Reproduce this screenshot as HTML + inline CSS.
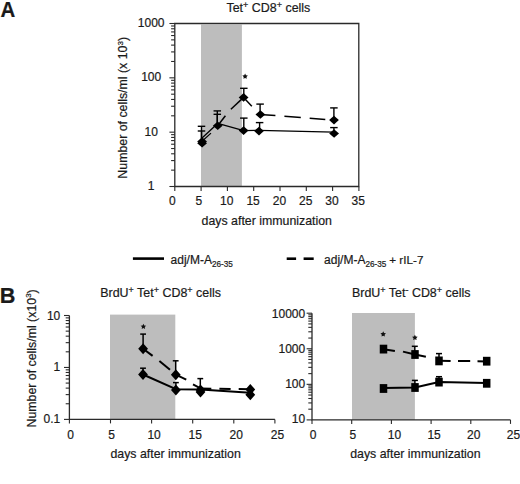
<!DOCTYPE html>
<html><head><meta charset="utf-8"><style>
html,body{margin:0;padding:0;background:#fff;}
svg{display:block;}
text{font-family:"Liberation Sans",sans-serif;fill:#1a1a1a;stroke:#1a1a1a;stroke-width:0.2px;}
</style></head><body>
<svg width="520" height="484" viewBox="0 0 520 484">
<rect width="520" height="484" fill="#fff"/>
<rect x="201.0" y="24.6" width="40.90" height="161.90" fill="#bdbdbd"/>
<path d="M174.80 23.5H358.8V186.5H174.80Z" fill="none" stroke="#2a2a2a" stroke-width="1.3"/>
<line x1="169.40" y1="186.50" x2="174.80" y2="186.50" stroke="#2a2a2a" stroke-width="1.1" />
<line x1="171.10" y1="170.14" x2="174.80" y2="170.14" stroke="#2a2a2a" stroke-width="1.1" />
<line x1="171.10" y1="160.58" x2="174.80" y2="160.58" stroke="#2a2a2a" stroke-width="1.1" />
<line x1="171.10" y1="153.79" x2="174.80" y2="153.79" stroke="#2a2a2a" stroke-width="1.1" />
<line x1="171.10" y1="148.52" x2="174.80" y2="148.52" stroke="#2a2a2a" stroke-width="1.1" />
<line x1="171.10" y1="144.22" x2="174.80" y2="144.22" stroke="#2a2a2a" stroke-width="1.1" />
<line x1="171.10" y1="140.58" x2="174.80" y2="140.58" stroke="#2a2a2a" stroke-width="1.1" />
<line x1="171.10" y1="137.43" x2="174.80" y2="137.43" stroke="#2a2a2a" stroke-width="1.1" />
<line x1="171.10" y1="134.65" x2="174.80" y2="134.65" stroke="#2a2a2a" stroke-width="1.1" />
<line x1="169.40" y1="132.17" x2="174.80" y2="132.17" stroke="#2a2a2a" stroke-width="1.1" />
<line x1="171.10" y1="115.81" x2="174.80" y2="115.81" stroke="#2a2a2a" stroke-width="1.1" />
<line x1="171.10" y1="106.24" x2="174.80" y2="106.24" stroke="#2a2a2a" stroke-width="1.1" />
<line x1="171.10" y1="99.45" x2="174.80" y2="99.45" stroke="#2a2a2a" stroke-width="1.1" />
<line x1="171.10" y1="94.19" x2="174.80" y2="94.19" stroke="#2a2a2a" stroke-width="1.1" />
<line x1="171.10" y1="89.89" x2="174.80" y2="89.89" stroke="#2a2a2a" stroke-width="1.1" />
<line x1="171.10" y1="86.25" x2="174.80" y2="86.25" stroke="#2a2a2a" stroke-width="1.1" />
<line x1="171.10" y1="83.10" x2="174.80" y2="83.10" stroke="#2a2a2a" stroke-width="1.1" />
<line x1="171.10" y1="80.32" x2="174.80" y2="80.32" stroke="#2a2a2a" stroke-width="1.1" />
<line x1="169.40" y1="77.83" x2="174.80" y2="77.83" stroke="#2a2a2a" stroke-width="1.1" />
<line x1="171.10" y1="61.48" x2="174.80" y2="61.48" stroke="#2a2a2a" stroke-width="1.1" />
<line x1="171.10" y1="51.91" x2="174.80" y2="51.91" stroke="#2a2a2a" stroke-width="1.1" />
<line x1="171.10" y1="45.12" x2="174.80" y2="45.12" stroke="#2a2a2a" stroke-width="1.1" />
<line x1="171.10" y1="39.86" x2="174.80" y2="39.86" stroke="#2a2a2a" stroke-width="1.1" />
<line x1="171.10" y1="35.55" x2="174.80" y2="35.55" stroke="#2a2a2a" stroke-width="1.1" />
<line x1="171.10" y1="31.92" x2="174.80" y2="31.92" stroke="#2a2a2a" stroke-width="1.1" />
<line x1="171.10" y1="28.77" x2="174.80" y2="28.77" stroke="#2a2a2a" stroke-width="1.1" />
<line x1="171.10" y1="25.99" x2="174.80" y2="25.99" stroke="#2a2a2a" stroke-width="1.1" />
<line x1="169.40" y1="23.50" x2="174.80" y2="23.50" stroke="#2a2a2a" stroke-width="1.1" />
<text x="151.20" y="190.10" font-size="12" text-anchor="middle" >1</text>
<text x="151.20" y="135.77" font-size="12" text-anchor="middle" >10</text>
<text x="151.20" y="81.43" font-size="12" text-anchor="middle" >100</text>
<text x="151.20" y="27.10" font-size="12" text-anchor="middle" >1000</text>
<line x1="174.80" y1="186.50" x2="174.80" y2="191.00" stroke="#2a2a2a" stroke-width="1.1" />
<text x="172.30" y="204.50" font-size="12" text-anchor="middle" >0</text>
<line x1="201.10" y1="186.50" x2="201.10" y2="191.00" stroke="#2a2a2a" stroke-width="1.1" />
<text x="198.80" y="204.50" font-size="12" text-anchor="middle" >5</text>
<line x1="227.40" y1="186.50" x2="227.40" y2="191.00" stroke="#2a2a2a" stroke-width="1.1" />
<text x="226.80" y="204.50" font-size="12" text-anchor="middle" >10</text>
<line x1="253.70" y1="186.50" x2="253.70" y2="191.00" stroke="#2a2a2a" stroke-width="1.1" />
<text x="253.10" y="204.50" font-size="12" text-anchor="middle" >15</text>
<line x1="280.00" y1="186.50" x2="280.00" y2="191.00" stroke="#2a2a2a" stroke-width="1.1" />
<text x="279.40" y="204.50" font-size="12" text-anchor="middle" >20</text>
<line x1="306.30" y1="186.50" x2="306.30" y2="191.00" stroke="#2a2a2a" stroke-width="1.1" />
<text x="305.70" y="204.50" font-size="12" text-anchor="middle" >25</text>
<line x1="332.60" y1="186.50" x2="332.60" y2="191.00" stroke="#2a2a2a" stroke-width="1.1" />
<text x="332.00" y="204.50" font-size="12" text-anchor="middle" >30</text>
<line x1="358.90" y1="186.50" x2="358.90" y2="191.00" stroke="#2a2a2a" stroke-width="1.1" />
<text x="358.30" y="204.50" font-size="12" text-anchor="middle" >35</text>
<text x="266.80" y="224.60" font-size="12.35" text-anchor="middle" >days after immunization</text>
<text x="0.00" y="0.00" font-size="12.35" text-anchor="middle" transform="translate(127.4 107.8) rotate(-90)">Number of cells/ml (x 10<tspan font-size="8" dy="-4.6">3</tspan><tspan dy="4.6">)</tspan></text>
<text x="268.40" y="11.60" font-size="12.45" text-anchor="middle" >Tet<tspan font-size="9" dy="-4.0">+</tspan><tspan dy="4.0"> CD8</tspan><tspan font-size="9" dy="-4.0">+</tspan><tspan dy="4.0"> cells</tspan></text>
<line x1="201.50" y1="141.00" x2="201.50" y2="126.30" stroke="#000" stroke-width="1.4" />
<line x1="197.75" y1="126.30" x2="205.25" y2="126.30" stroke="#000" stroke-width="1.4" />
<line x1="201.50" y1="143.00" x2="201.50" y2="131.00" stroke="#000" stroke-width="1.4" />
<line x1="197.75" y1="131.00" x2="205.25" y2="131.00" stroke="#000" stroke-width="1.4" />
<line x1="217.30" y1="125.00" x2="217.30" y2="110.90" stroke="#000" stroke-width="1.4" />
<line x1="213.55" y1="110.90" x2="221.05" y2="110.90" stroke="#000" stroke-width="1.4" />
<line x1="217.30" y1="125.00" x2="217.30" y2="114.30" stroke="#000" stroke-width="1.4" />
<line x1="213.55" y1="114.30" x2="221.05" y2="114.30" stroke="#000" stroke-width="1.4" />
<line x1="243.80" y1="130.00" x2="243.80" y2="118.10" stroke="#000" stroke-width="1.4" />
<line x1="240.05" y1="118.10" x2="247.55" y2="118.10" stroke="#000" stroke-width="1.4" />
<line x1="259.60" y1="131.00" x2="259.60" y2="122.60" stroke="#000" stroke-width="1.4" />
<line x1="255.85" y1="122.60" x2="263.35" y2="122.60" stroke="#000" stroke-width="1.4" />
<line x1="333.90" y1="133.00" x2="333.90" y2="127.60" stroke="#000" stroke-width="1.4" />
<line x1="330.15" y1="127.60" x2="337.65" y2="127.60" stroke="#000" stroke-width="1.4" />
<line x1="243.80" y1="97.00" x2="243.80" y2="88.30" stroke="#000" stroke-width="1.4" />
<line x1="240.05" y1="88.30" x2="247.55" y2="88.30" stroke="#000" stroke-width="1.4" />
<line x1="260.10" y1="114.00" x2="260.10" y2="104.10" stroke="#000" stroke-width="1.4" />
<line x1="256.35" y1="104.10" x2="263.85" y2="104.10" stroke="#000" stroke-width="1.4" />
<line x1="333.90" y1="120.00" x2="333.90" y2="107.90" stroke="#000" stroke-width="1.4" />
<line x1="330.15" y1="107.90" x2="337.65" y2="107.90" stroke="#000" stroke-width="1.4" />
<path d="M202.00 138.00L217.70 123.40L243.70 130.60L259.00 130.40L334.00 132.10" stroke="#000" stroke-width="1.3" fill="none" stroke-linejoin="round"/>
<path d="M202.60 140.80L211.00 133.10" stroke="#000" stroke-width="1.2" fill="none"/>
<path d="M217.70 125.80L225.40 115.80" stroke="#000" stroke-width="1.5" fill="none"/>
<path d="M230.90 109.30L243.60 97.40" stroke="#000" stroke-width="1.5" fill="none"/>
<path d="M243.60 97.40L251.80 106.30" stroke="#000" stroke-width="1.5" fill="none"/>
<path d="M259.60 114.40L275.40 115.50" stroke="#000" stroke-width="1.5" fill="none"/>
<path d="M284.40 116.30L300.80 117.50" stroke="#000" stroke-width="1.5" fill="none"/>
<path d="M309.70 118.20L325.30 119.40" stroke="#000" stroke-width="1.5" fill="none"/>
<path d="M197.20 141.50L202.10 137.20L207.00 141.50L202.10 145.80Z" fill="#000"/>
<path d="M197.20 143.30L202.10 139.00L207.00 143.30L202.10 147.60Z" fill="#000"/>
<path d="M212.80 125.80L217.70 121.50L222.60 125.80L217.70 130.10Z" fill="#000"/>
<path d="M238.70 130.60L243.60 126.30L248.50 130.60L243.60 134.90Z" fill="#000"/>
<path d="M254.10 131.10L259.00 126.80L263.90 131.10L259.00 135.40Z" fill="#000"/>
<path d="M329.20 133.50L334.10 129.20L339.00 133.50L334.10 137.80Z" fill="#000"/>
<path d="M238.70 97.40L243.60 93.10L248.50 97.40L243.60 101.70Z" fill="#000"/>
<path d="M255.50 114.50L260.40 110.20L265.30 114.50L260.40 118.80Z" fill="#000"/>
<path d="M329.10 120.10L334.00 115.80L338.90 120.10L334.00 124.40Z" fill="#000"/>
<path d="M245.10 73.60L245.95 75.33L247.86 75.60L246.48 76.95L246.80 78.85L245.10 77.95L243.40 78.85L243.72 76.95L242.34 75.60L244.25 75.33Z" fill="#111"/>
<line x1="132.90" y1="258.60" x2="164.00" y2="258.60" stroke="#000" stroke-width="2.6" />
<text x="170.60" y="263.50" font-size="12" text-anchor="start" >adj/M-A<tspan font-size="8.2" dy="3.6">26-35</tspan></text>
<line x1="286.70" y1="258.70" x2="296.10" y2="258.70" stroke="#000" stroke-width="2.6" />
<line x1="303.60" y1="258.70" x2="313.70" y2="258.70" stroke="#000" stroke-width="2.6" />
<text x="324.10" y="263.50" font-size="12" text-anchor="start" >adj/M-A<tspan font-size="8.2" dy="3.6">26-35</tspan></text>
<text x="389.30" y="263.50" font-size="11.7" text-anchor="start" >+ rIL-7</text>
<text x="0.00" y="0.00" font-size="22" text-anchor="start" font-weight="bold" transform="translate(0.4 16.8) scale(0.93 1)">A</text>
<text x="0.00" y="0.00" font-size="22" text-anchor="start" font-weight="bold" transform="translate(-0.2 302.9) scale(0.985 1)">B</text>
<rect x="110" y="314.6" width="65.30" height="104.80" fill="#bdbdbd"/>
<path d="M69.40 315.5V419.4H274.90" fill="none" stroke="#2a2a2a" stroke-width="1.3"/>
<line x1="64.00" y1="419.40" x2="69.40" y2="419.40" stroke="#2a2a2a" stroke-width="1.1" />
<line x1="65.70" y1="403.76" x2="69.40" y2="403.76" stroke="#2a2a2a" stroke-width="1.1" />
<line x1="65.70" y1="394.61" x2="69.40" y2="394.61" stroke="#2a2a2a" stroke-width="1.1" />
<line x1="65.70" y1="388.12" x2="69.40" y2="388.12" stroke="#2a2a2a" stroke-width="1.1" />
<line x1="65.70" y1="383.09" x2="69.40" y2="383.09" stroke="#2a2a2a" stroke-width="1.1" />
<line x1="65.70" y1="378.98" x2="69.40" y2="378.98" stroke="#2a2a2a" stroke-width="1.1" />
<line x1="65.70" y1="375.50" x2="69.40" y2="375.50" stroke="#2a2a2a" stroke-width="1.1" />
<line x1="65.70" y1="372.48" x2="69.40" y2="372.48" stroke="#2a2a2a" stroke-width="1.1" />
<line x1="65.70" y1="369.83" x2="69.40" y2="369.83" stroke="#2a2a2a" stroke-width="1.1" />
<line x1="64.00" y1="367.45" x2="69.40" y2="367.45" stroke="#2a2a2a" stroke-width="1.1" />
<line x1="65.70" y1="351.81" x2="69.40" y2="351.81" stroke="#2a2a2a" stroke-width="1.1" />
<line x1="65.70" y1="342.66" x2="69.40" y2="342.66" stroke="#2a2a2a" stroke-width="1.1" />
<line x1="65.70" y1="336.17" x2="69.40" y2="336.17" stroke="#2a2a2a" stroke-width="1.1" />
<line x1="65.70" y1="331.14" x2="69.40" y2="331.14" stroke="#2a2a2a" stroke-width="1.1" />
<line x1="65.70" y1="327.03" x2="69.40" y2="327.03" stroke="#2a2a2a" stroke-width="1.1" />
<line x1="65.70" y1="323.55" x2="69.40" y2="323.55" stroke="#2a2a2a" stroke-width="1.1" />
<line x1="65.70" y1="320.53" x2="69.40" y2="320.53" stroke="#2a2a2a" stroke-width="1.1" />
<line x1="65.70" y1="317.88" x2="69.40" y2="317.88" stroke="#2a2a2a" stroke-width="1.1" />
<line x1="64.00" y1="315.50" x2="69.40" y2="315.50" stroke="#2a2a2a" stroke-width="1.1" />
<text x="60.30" y="423.20" font-size="12" text-anchor="end" >0.1</text>
<text x="60.30" y="371.25" font-size="12" text-anchor="end" >1</text>
<text x="60.30" y="320.30" font-size="12" text-anchor="end" >10</text>
<line x1="69.40" y1="419.40" x2="69.40" y2="423.40" stroke="#2a2a2a" stroke-width="1.1" />
<text x="70.60" y="438.80" font-size="12" text-anchor="middle" >0</text>
<line x1="110.50" y1="419.40" x2="110.50" y2="423.40" stroke="#2a2a2a" stroke-width="1.1" />
<text x="111.70" y="438.80" font-size="12" text-anchor="middle" >5</text>
<line x1="151.60" y1="419.40" x2="151.60" y2="423.40" stroke="#2a2a2a" stroke-width="1.1" />
<text x="154.10" y="438.80" font-size="12" text-anchor="middle" >10</text>
<line x1="192.70" y1="419.40" x2="192.70" y2="423.40" stroke="#2a2a2a" stroke-width="1.1" />
<text x="195.20" y="438.80" font-size="12" text-anchor="middle" >15</text>
<line x1="233.80" y1="419.40" x2="233.80" y2="423.40" stroke="#2a2a2a" stroke-width="1.1" />
<text x="236.30" y="438.80" font-size="12" text-anchor="middle" >20</text>
<line x1="274.90" y1="419.40" x2="274.90" y2="423.40" stroke="#2a2a2a" stroke-width="1.1" />
<text x="277.40" y="438.80" font-size="12" text-anchor="middle" >25</text>
<text x="175.60" y="457.80" font-size="12.35" text-anchor="middle" >days after immunization</text>
<text x="0.00" y="0.00" font-size="12.35" text-anchor="middle" transform="translate(35.7 358.4) rotate(-90)">Number of cells/ml (x10<tspan font-size="8" dy="-4.6">3</tspan><tspan dy="4.6">)</tspan></text>
<text x="160.60" y="296.80" font-size="12.45" text-anchor="middle" >BrdU<tspan font-size="9" dy="-4.0">+</tspan><tspan dy="4.0"> Tet</tspan><tspan font-size="9" dy="-4.0">+</tspan><tspan dy="4.0"> CD8</tspan><tspan font-size="9" dy="-4.0">+</tspan><tspan dy="4.0"> cells</tspan></text>
<line x1="143.10" y1="349.00" x2="143.10" y2="334.10" stroke="#000" stroke-width="1.5" />
<line x1="140.20" y1="334.10" x2="146.00" y2="334.10" stroke="#000" stroke-width="1.5" />
<line x1="175.70" y1="374.70" x2="175.70" y2="360.80" stroke="#000" stroke-width="1.5" />
<line x1="172.80" y1="360.80" x2="178.60" y2="360.80" stroke="#000" stroke-width="1.5" />
<line x1="200.30" y1="388.40" x2="200.30" y2="378.60" stroke="#000" stroke-width="1.5" />
<line x1="197.40" y1="378.60" x2="203.20" y2="378.60" stroke="#000" stroke-width="1.5" />
<line x1="143.00" y1="374.50" x2="143.00" y2="368.20" stroke="#000" stroke-width="1.5" />
<line x1="140.10" y1="368.20" x2="145.90" y2="368.20" stroke="#000" stroke-width="1.5" />
<line x1="175.90" y1="389.90" x2="175.90" y2="382.60" stroke="#000" stroke-width="1.5" />
<line x1="173.00" y1="382.60" x2="178.80" y2="382.60" stroke="#000" stroke-width="1.5" />
<path d="M143.00 374.50L175.90 389.20L200.50 389.60L250.30 392.80" stroke="#000" stroke-width="2.0" fill="none" stroke-linejoin="round"/>
<path d="M143.10 348.70L152.60 355.90" stroke="#000" stroke-width="2.0" fill="none"/>
<path d="M159.40 361.10L170.00 369.80" stroke="#000" stroke-width="2.0" fill="none"/>
<path d="M175.80 374.70L186.25 379.60" stroke="#000" stroke-width="2.0" fill="none"/>
<path d="M193.00 384.40L200.50 388.30" stroke="#000" stroke-width="2.0" fill="none"/>
<path d="M200.50 388.50L211.30 388.70" stroke="#000" stroke-width="2.0" fill="none"/>
<path d="M219.40 388.80L230.60 389.00" stroke="#000" stroke-width="2.0" fill="none"/>
<path d="M238.70 389.10L250.30 389.30" stroke="#000" stroke-width="2.0" fill="none"/>
<path d="M138.20 348.70L143.10 343.20L148.00 348.70L143.10 354.20Z" fill="#000"/>
<path d="M170.90 374.70L175.80 369.20L180.70 374.70L175.80 380.20Z" fill="#000"/>
<path d="M195.60 390.00L200.50 384.50L205.40 390.00L200.50 395.50Z" fill="#000"/>
<path d="M245.40 389.50L250.30 384.00L255.20 389.50L250.30 395.00Z" fill="#000"/>
<path d="M138.10 374.50L143.00 369.00L147.90 374.50L143.00 380.00Z" fill="#000"/>
<path d="M171.00 389.90L175.90 384.40L180.80 389.90L175.90 395.40Z" fill="#000"/>
<path d="M195.60 391.90L200.50 386.40L205.40 391.90L200.50 397.40Z" fill="#000"/>
<path d="M245.40 394.70L250.30 389.20L255.20 394.70L250.30 400.20Z" fill="#000"/>
<path d="M143.40 323.70L144.25 325.43L146.16 325.70L144.78 327.05L145.10 328.95L143.40 328.05L141.70 328.95L142.02 327.05L140.64 325.70L142.55 325.43Z" fill="#111"/>
<rect x="352" y="313" width="62.90" height="106.90" fill="#bdbdbd"/>
<path d="M312.00 313.2V419.9H510.50" fill="none" stroke="#2a2a2a" stroke-width="1.3"/>
<line x1="306.60" y1="419.90" x2="312.00" y2="419.90" stroke="#2a2a2a" stroke-width="1.1" />
<line x1="308.30" y1="409.19" x2="312.00" y2="409.19" stroke="#2a2a2a" stroke-width="1.1" />
<line x1="308.30" y1="402.93" x2="312.00" y2="402.93" stroke="#2a2a2a" stroke-width="1.1" />
<line x1="308.30" y1="398.49" x2="312.00" y2="398.49" stroke="#2a2a2a" stroke-width="1.1" />
<line x1="308.30" y1="395.04" x2="312.00" y2="395.04" stroke="#2a2a2a" stroke-width="1.1" />
<line x1="308.30" y1="392.22" x2="312.00" y2="392.22" stroke="#2a2a2a" stroke-width="1.1" />
<line x1="308.30" y1="389.84" x2="312.00" y2="389.84" stroke="#2a2a2a" stroke-width="1.1" />
<line x1="308.30" y1="387.78" x2="312.00" y2="387.78" stroke="#2a2a2a" stroke-width="1.1" />
<line x1="308.30" y1="385.96" x2="312.00" y2="385.96" stroke="#2a2a2a" stroke-width="1.1" />
<line x1="306.60" y1="384.33" x2="312.00" y2="384.33" stroke="#2a2a2a" stroke-width="1.1" />
<line x1="308.30" y1="373.63" x2="312.00" y2="373.63" stroke="#2a2a2a" stroke-width="1.1" />
<line x1="308.30" y1="367.36" x2="312.00" y2="367.36" stroke="#2a2a2a" stroke-width="1.1" />
<line x1="308.30" y1="362.92" x2="312.00" y2="362.92" stroke="#2a2a2a" stroke-width="1.1" />
<line x1="308.30" y1="359.47" x2="312.00" y2="359.47" stroke="#2a2a2a" stroke-width="1.1" />
<line x1="308.30" y1="356.66" x2="312.00" y2="356.66" stroke="#2a2a2a" stroke-width="1.1" />
<line x1="308.30" y1="354.28" x2="312.00" y2="354.28" stroke="#2a2a2a" stroke-width="1.1" />
<line x1="308.30" y1="352.21" x2="312.00" y2="352.21" stroke="#2a2a2a" stroke-width="1.1" />
<line x1="308.30" y1="350.39" x2="312.00" y2="350.39" stroke="#2a2a2a" stroke-width="1.1" />
<line x1="306.60" y1="348.77" x2="312.00" y2="348.77" stroke="#2a2a2a" stroke-width="1.1" />
<line x1="308.30" y1="338.06" x2="312.00" y2="338.06" stroke="#2a2a2a" stroke-width="1.1" />
<line x1="308.30" y1="331.80" x2="312.00" y2="331.80" stroke="#2a2a2a" stroke-width="1.1" />
<line x1="308.30" y1="327.35" x2="312.00" y2="327.35" stroke="#2a2a2a" stroke-width="1.1" />
<line x1="308.30" y1="323.91" x2="312.00" y2="323.91" stroke="#2a2a2a" stroke-width="1.1" />
<line x1="308.30" y1="321.09" x2="312.00" y2="321.09" stroke="#2a2a2a" stroke-width="1.1" />
<line x1="308.30" y1="318.71" x2="312.00" y2="318.71" stroke="#2a2a2a" stroke-width="1.1" />
<line x1="308.30" y1="316.65" x2="312.00" y2="316.65" stroke="#2a2a2a" stroke-width="1.1" />
<line x1="308.30" y1="314.83" x2="312.00" y2="314.83" stroke="#2a2a2a" stroke-width="1.1" />
<line x1="306.60" y1="313.20" x2="312.00" y2="313.20" stroke="#2a2a2a" stroke-width="1.1" />
<text x="305.20" y="423.40" font-size="12" text-anchor="end" >10</text>
<text x="305.20" y="388.40" font-size="12" text-anchor="end" >100</text>
<text x="305.20" y="353.00" font-size="12" text-anchor="end" >1000</text>
<text x="305.20" y="318.40" font-size="12" text-anchor="end" >10000</text>
<line x1="312.00" y1="419.90" x2="312.00" y2="423.90" stroke="#2a2a2a" stroke-width="1.1" />
<text x="313.20" y="438.80" font-size="12" text-anchor="middle" >0</text>
<line x1="351.70" y1="419.90" x2="351.70" y2="423.90" stroke="#2a2a2a" stroke-width="1.1" />
<text x="352.90" y="438.80" font-size="12" text-anchor="middle" >5</text>
<line x1="391.40" y1="419.90" x2="391.40" y2="423.90" stroke="#2a2a2a" stroke-width="1.1" />
<text x="394.40" y="438.80" font-size="12" text-anchor="middle" >10</text>
<line x1="431.10" y1="419.90" x2="431.10" y2="423.90" stroke="#2a2a2a" stroke-width="1.1" />
<text x="434.10" y="438.80" font-size="12" text-anchor="middle" >15</text>
<line x1="470.80" y1="419.90" x2="470.80" y2="423.90" stroke="#2a2a2a" stroke-width="1.1" />
<text x="473.80" y="438.80" font-size="12" text-anchor="middle" >20</text>
<line x1="510.50" y1="419.90" x2="510.50" y2="423.90" stroke="#2a2a2a" stroke-width="1.1" />
<text x="513.50" y="438.80" font-size="12" text-anchor="middle" >25</text>
<text x="415.40" y="457.80" font-size="12.35" text-anchor="middle" >days after immunization</text>
<text x="411.20" y="296.60" font-size="12.45" text-anchor="middle" >BrdU<tspan font-size="9" dy="-4.0">+</tspan><tspan dy="4.0"> Tet</tspan><tspan font-size="9" dy="-4.0">-</tspan><tspan dy="4.0"> CD8</tspan><tspan font-size="9" dy="-4.0">+</tspan><tspan dy="4.0"> cells</tspan></text>
<line x1="414.80" y1="354.50" x2="414.80" y2="346.30" stroke="#000" stroke-width="1.5" />
<line x1="411.80" y1="346.30" x2="417.80" y2="346.30" stroke="#000" stroke-width="1.5" />
<line x1="439.00" y1="360.90" x2="439.00" y2="353.60" stroke="#000" stroke-width="1.5" />
<line x1="436.00" y1="353.60" x2="442.00" y2="353.60" stroke="#000" stroke-width="1.5" />
<line x1="414.90" y1="387.50" x2="414.90" y2="380.40" stroke="#000" stroke-width="1.5" />
<line x1="411.90" y1="380.40" x2="417.90" y2="380.40" stroke="#000" stroke-width="1.5" />
<line x1="439.00" y1="382.00" x2="439.00" y2="376.70" stroke="#000" stroke-width="1.5" />
<line x1="436.00" y1="376.70" x2="442.00" y2="376.70" stroke="#000" stroke-width="1.5" />
<path d="M383.50 388.00L415.00 387.40L439.00 382.00L486.50 383.00" stroke="#000" stroke-width="2.0" fill="none" stroke-linejoin="round"/>
<path d="M383.50 349.20L394.90 351.00" stroke="#000" stroke-width="2.0" fill="none"/>
<path d="M403.00 351.60L415.00 354.50" stroke="#000" stroke-width="2.0" fill="none"/>
<path d="M415.00 354.50L425.90 356.80" stroke="#000" stroke-width="2.0" fill="none"/>
<path d="M439.00 360.80L450.60 361.00" stroke="#000" stroke-width="2.0" fill="none"/>
<path d="M458.00 361.00L470.20 361.10" stroke="#000" stroke-width="2.0" fill="none"/>
<path d="M477.50 361.20L486.50 361.40" stroke="#000" stroke-width="2.0" fill="none"/>
<rect x="379.75" y="344.70" width="7.50" height="8.80" fill="#000"/>
<rect x="411.25" y="350.10" width="7.50" height="8.80" fill="#000"/>
<rect x="435.25" y="356.50" width="7.50" height="8.80" fill="#000"/>
<rect x="482.95" y="356.80" width="7.50" height="8.80" fill="#000"/>
<rect x="379.75" y="384.10" width="7.50" height="8.80" fill="#000"/>
<rect x="411.25" y="383.10" width="7.50" height="8.80" fill="#000"/>
<rect x="435.25" y="377.70" width="7.50" height="8.80" fill="#000"/>
<rect x="482.95" y="378.90" width="7.50" height="8.80" fill="#000"/>
<path d="M383.20 331.30L384.05 333.03L385.96 333.30L384.58 334.65L384.90 336.55L383.20 335.65L381.50 336.55L381.82 334.65L380.44 333.30L382.35 333.03Z" fill="#111"/>
<path d="M414.90 334.80L415.75 336.53L417.66 336.80L416.28 338.15L416.60 340.05L414.90 339.15L413.20 340.05L413.52 338.15L412.14 336.80L414.05 336.53Z" fill="#111"/>
</svg>
</body></html>
